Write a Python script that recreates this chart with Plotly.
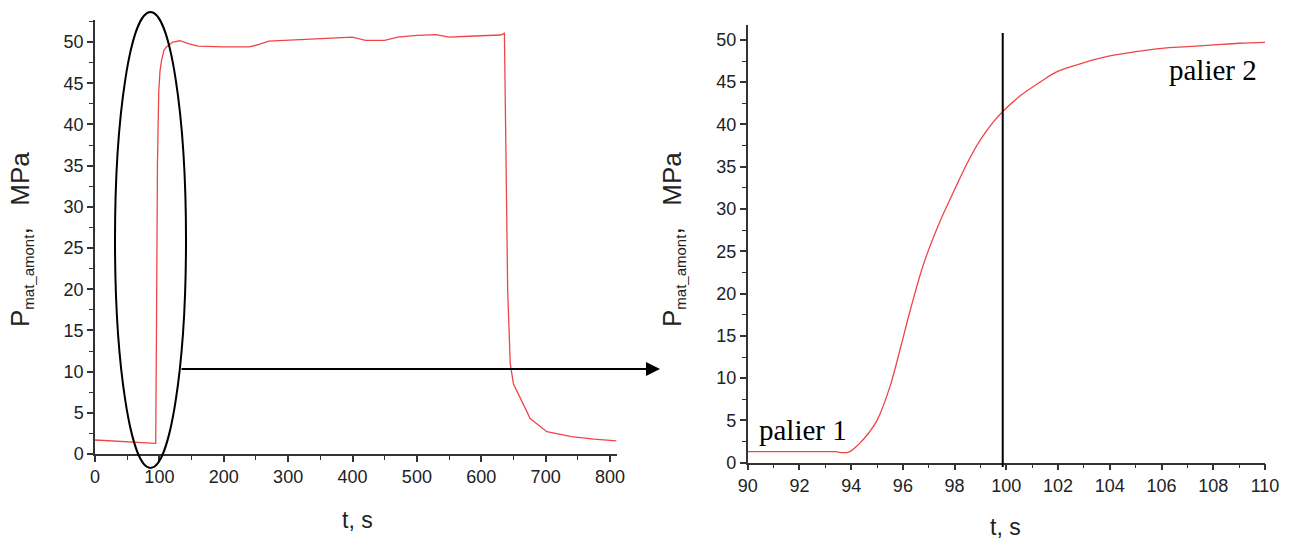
import plotly.graph_objects as go

# ---- data ----
t_full = [0, 94.3, 95.5, 97, 99, 101, 103.5, 107, 111, 121, 132, 145, 160, 200, 240, 255, 270,
          300, 350, 400, 420, 450, 470, 500, 530, 550, 580, 610, 630, 636,
          638, 641, 645, 650, 660, 676, 702, 740, 775, 810]
p_full = [1.7, 1.3, 15, 35, 44, 46.5, 47.8, 49, 49.4, 50.0, 50.15, 49.8, 49.5, 49.4, 49.4, 49.7, 50.1,
          50.2, 50.4, 50.6, 50.2, 50.2, 50.6, 50.8, 50.9, 50.6, 50.7, 50.8, 50.85, 51.05,
          35, 20, 11, 8.5, 6.9, 4.3, 2.7, 2.1, 1.8, 1.6]

t_zoom = [90, 91, 92, 93, 93.4, 93.6, 93.9, 94.3, 94.7, 95.0, 95.5, 95.9, 96.3, 96.8, 97.4,
          98, 98.5, 99, 99.5, 99.85, 100.5, 101.3, 102, 103, 104, 105, 106, 107, 108, 109, 110]
p_zoom = [1.3, 1.3, 1.3, 1.3, 1.3, 1.2, 1.25, 2.2, 3.6, 5.0, 9.0, 13.5, 18.2, 23.5, 28.3,
          32.3, 35.5, 38.2, 40.3, 41.5, 43.3, 45, 46.3, 47.3, 48.1, 48.6, 49, 49.2, 49.4, 49.6, 49.7]

x_ticks_full = [0, 100, 200, 300, 400, 500, 600, 700, 800]
x_ticks_zoom = [90, 92, 94, 96, 98, 100, 102, 104, 106, 108, 110]
y_ticks = [0, 5, 10, 15, 20, 25, 30, 35, 40, 45, 50]
t_marker = 99.86

W, H = 1291, 540
def px(x): return x / W
def py(y): return 1 - y / H

RED = "rgb(238,70,72)"
tickfont = dict(family="Liberation Sans, Arial", size=18, color="#222")

fig = go.Figure()
fig.add_trace(go.Scatter(x=t_full, y=p_full, mode="lines", line=dict(color=RED, width=1.3),
                         xaxis="x", yaxis="y", showlegend=False))
fig.add_trace(go.Scatter(x=t_zoom, y=p_zoom, mode="lines", line=dict(color=RED, width=1.3, shape="spline"),
                         xaxis="x2", yaxis="y2", showlegend=False))

axcommon = dict(showline=True, linecolor="#333", linewidth=1.5, ticks="outside", ticklen=6,
                tickwidth=1.5, tickcolor="#333", showgrid=False, zeroline=False,
                tickfont=tickfont, automargin=False)

fig.update_layout(
    width=W, height=H, margin=dict(l=0, r=0, t=0, b=0, autoexpand=False),
    paper_bgcolor="white", plot_bgcolor="white",
    xaxis=dict(domain=[px(95), px(616.7)], range=[0, 810.4], anchor="y",
               tickvals=x_ticks_full, minor=dict(ticks="outside", ticklen=4, dtick=50, tick0=0, tickcolor="#333", tickwidth=1.2),
               **axcommon),
    yaxis=dict(domain=[py(454), py(20)], range=[0, 52.67], anchor="x",
               tickvals=y_ticks, minor=dict(ticks="outside", ticklen=4, dtick=2.5, tick0=0, tickcolor="#333", tickwidth=1.2),
               **axcommon),
    xaxis2=dict(domain=[px(747.7), px(1265)], range=[90, 110], anchor="y2",
                tickvals=x_ticks_zoom, minor=dict(ticks="outside", ticklen=4, dtick=1, tick0=90, tickcolor="#333", tickwidth=1.2),
                **axcommon),
    yaxis2=dict(domain=[py(462.7), py(25)], range=[0, 51.76], anchor="x2",
                tickvals=y_ticks, minor=dict(ticks="outside", ticklen=4, dtick=2.5, tick0=0, tickcolor="#333", tickwidth=1.2),
                **axcommon),
)

# vertical marker line in zoom
fig.add_shape(type="line", xref="x2", yref="paper", x0=t_marker, x1=t_marker,
              y0=py(467), y1=py(33), line=dict(color="black", width=2))
# ellipse on left plot
fig.add_shape(type="circle", xref="paper", yref="paper", x0=px(115), x1=px(186),
              y0=py(468), y1=py(12), line=dict(color="black", width=2))
# arrow
fig.add_annotation(xref="paper", yref="paper", x=px(660), y=py(369), ax=-480, ay=0,
                   text="", showarrow=True, arrowhead=2, arrowsize=1.4, arrowwidth=2, arrowcolor="black")

def label(x, y, text, font, angle=0):
    fig.add_annotation(xref="paper", yref="paper", x=px(x), y=py(y), text=text, textangle=angle,
                       xanchor="center", yanchor="middle", showarrow=False, font=font)

title_font = dict(family="Liberation Sans, Arial", size=23, color="#222")
ytitle = 'P<sub><span style="font-size:15px">mat_amont</span></sub>,   MPa'
yfont = dict(family="Liberation Sans, Arial", size=26, color="#222")
label(357, 520, "t, s", title_font)
label(1005, 527, "t, s", title_font)
label(21, 240, ytitle, yfont, -90)
label(673, 240, ytitle, yfont, -90)

serif = dict(family="Liberation Serif, Times New Roman", size=29, color="black")
label(803, 430, "palier 1", serif)
label(1213, 70, "palier 2", serif)

fig.write_html("out.html", post_script="document.body.style.margin='0';",
               config={"displayModeBar": False})
